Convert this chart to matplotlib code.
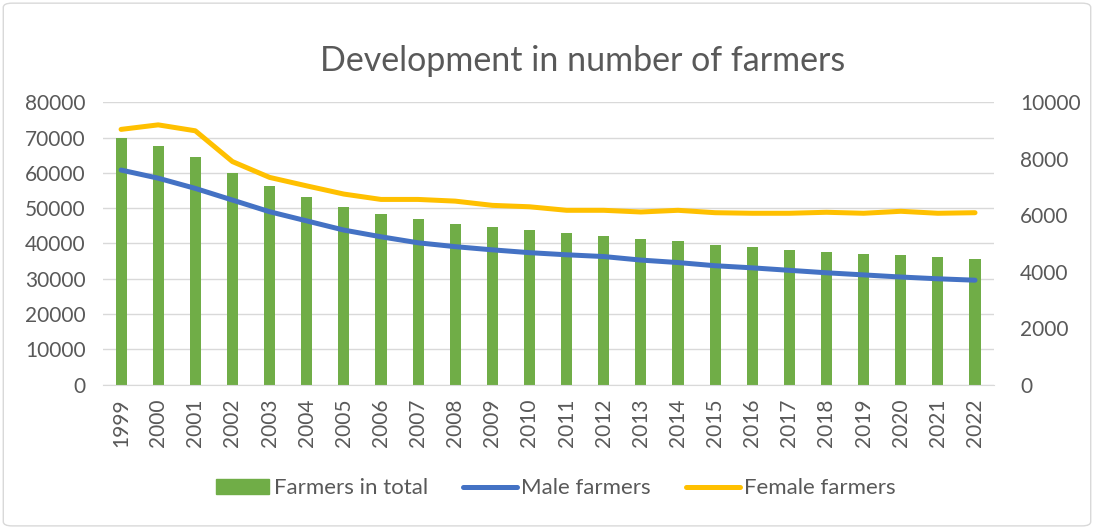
import matplotlib.pyplot as plt
import numpy as np
from matplotlib.patches import FancyBboxPatch
from matplotlib.lines import Line2D
from matplotlib.patches import Patch

years = [str(y) for y in range(1999, 2023)]
total = [70000, 67600, 64500, 60100, 56300, 53300, 50400, 48400, 46900, 45600,
         44700, 43700, 42900, 42200, 41300, 40700, 39700, 39000, 38200, 37600,
         37000, 36700, 36100, 35600]
male = [60800, 58500, 55600, 52300, 49000, 46400, 43800, 41900, 40200, 39100,
        38200, 37400, 36800, 36300, 35300, 34600, 33700, 33100, 32400, 31700,
        31100, 30500, 30000, 29600]
female = [9040, 9200, 8990, 7900, 7340, 7040, 6750, 6560, 6560, 6500,
          6350, 6300, 6175, 6175, 6115, 6175, 6090, 6070, 6070, 6105,
          6070, 6140, 6070, 6090]

plt.rcParams['font.family'] = ['Lato', 'DejaVu Sans']
grey = '#595959'

fig = plt.figure(figsize=(10.94, 5.28), dpi=100)
fig.patches.append(FancyBboxPatch((0.003, 0.004), 0.994, 0.99, boxstyle='round,pad=0,rounding_size=0.008',
                                  transform=fig.transFigure, fc='none', ec='#d9d9d9', lw=1, zorder=-1))

ax1 = fig.add_axes([0.0937, 0.2714, 0.8145, 0.5349])
ax2 = ax1.twinx()
x = np.arange(len(years))

ax1.bar(x, total, width=0.3, color='#70ad47', zorder=2)
ax1.plot(x, male, color='#4472c4', lw=3.6, solid_capstyle='round', zorder=3)
ax2.plot(x, female, color='#ffc000', lw=3.6, solid_capstyle='round', zorder=3)

ax1.set_xlim(-0.5, len(years) - 0.5)
ax1.set_ylim(0, 80000)
ax2.set_ylim(0, 10000)
ax1.set_yticks(range(0, 80001, 10000))
ax2.set_yticks(range(0, 10001, 2000))
ax1.set_xticks(x)
ax1.set_xticklabels(years, rotation=90)
ax1.grid(axis='y', color='#d9d9d9', lw=1, zorder=0)
ax1.set_axisbelow(True)

for a in (ax1, ax2):
    for s in a.spines.values():
        s.set_visible(False)
    a.tick_params(length=0, labelsize=15, labelcolor=grey)
ax1.spines['bottom'].set_visible(True)
ax1.spines['bottom'].set_color('#d9d9d9')
ax1.tick_params(axis='y', pad=12)
ax2.tick_params(axis='y', pad=19)
ax1.tick_params(axis='x', pad=10)

fig.text(0.533, 0.885, 'Development in number of farmers', ha='center', va='center',
         fontsize=24.5, color=grey)

handles = [Patch(color='#70ad47'),
           Line2D([], [], color='#4472c4', lw=3.6, solid_capstyle='round'),
           Line2D([], [], color='#ffc000', lw=3.6, solid_capstyle='round')]
fig.legend(handles, ['Farmers in total', 'Male farmers', 'Female farmers'],
           loc='center', bbox_to_anchor=(0.508, 0.075), ncol=3, frameon=False,
           fontsize=16, labelcolor=grey, handlelength=2.4, handletextpad=0.2,
           columnspacing=1.6)

fig.savefig('out.png', dpi=100)
